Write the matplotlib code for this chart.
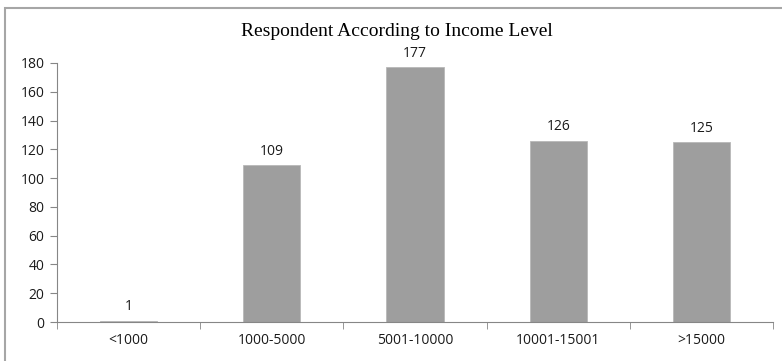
import matplotlib.pyplot as plt
from matplotlib.patches import Rectangle

categories = ["<1000", "1000-5000", "5001-10000", "10001-15001", ">15000"]
counts = [1, 109, 177, 126, 125]
y_ticks = [0, 20, 40, 60, 80, 100, 120, 140, 160, 180]

fig = plt.figure(figsize=(7.82, 3.61), dpi=100)
W, H = 782, 361
ax = fig.add_axes([57 / W, 1 - 322 / H, (773 - 57) / W, (322 - 63) / H])

# chart area border (top/left only visible)
fig.patches.append(Rectangle((5 / W, -0.1), 1.2, 1 - 7.5 / H + 0.1, transform=fig.transFigure,
                             fill=False, edgecolor="#a6a6a6", linewidth=1.5))

x = range(len(categories))
bars = ax.bar(x, counts, width=0.4, color="#9e9e9e", edgecolor="#b8b8b8", linewidth=0.6)
for xi, v in zip(x, counts):
    ax.text(xi, v + 4.5, str(v), ha="center", va="bottom", fontsize=10, family="Open Sans", color="#1a1a1a")

ax.set_xlim(-0.5, len(categories) - 0.5)
ax.set_ylim(0, 180)
ax.set_yticks(y_ticks)
ax.set_yticklabels([str(t) for t in y_ticks], family="Open Sans", fontsize=10, color="#1a1a1a")
ax.set_xticks(x)
ax.set_xticklabels(categories, family="Open Sans", fontsize=10, color="#1a1a1a")
ax.set_xticks([i - 0.5 for i in range(len(categories) + 1)], minor=True)
ax.tick_params(axis="x", which="major", length=0, pad=8)
ax.tick_params(axis="x", which="minor", length=5, color="#868686")
ax.tick_params(axis="y", length=5, color="#868686", pad=4)

for s in ["top", "right"]:
    ax.spines[s].set_visible(False)
for s in ["left", "bottom"]:
    ax.spines[s].set_color("#868686")
    ax.spines[s].set_linewidth(0.8)

fig.text(397 / W, 1 - 32 / H, "Respondent According to Income Level", ha="center", va="center",
         family="Liberation Serif", fontsize=14)

fig.savefig("out.png", dpi=100)
